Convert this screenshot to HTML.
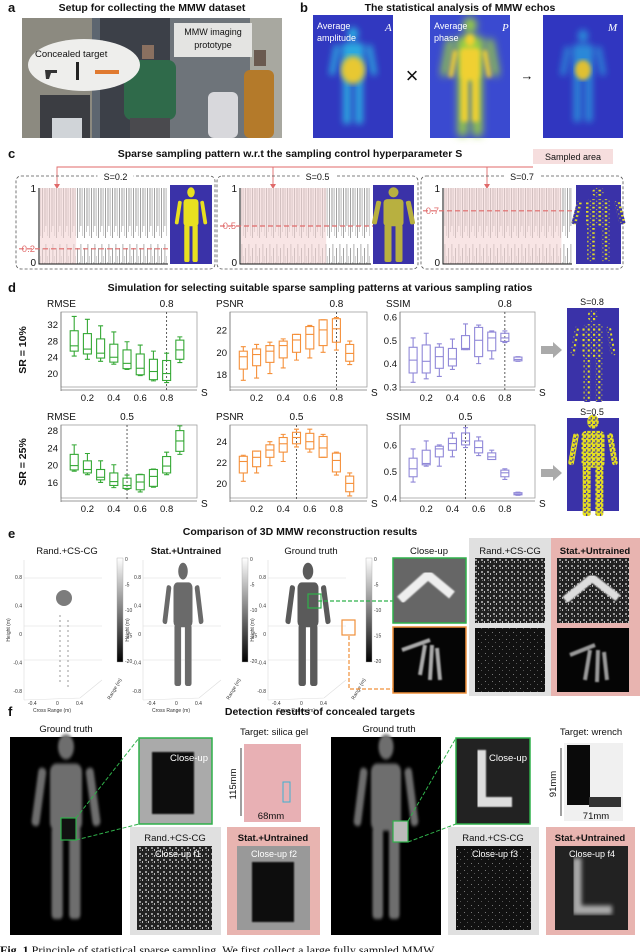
<!DOCTYPE html>
<html><head><meta charset="utf-8"><style>
html,body{margin:0;padding:0;background:#fff}
svg{display:block}
text{font-family:"Liberation Sans",Arial,sans-serif}
.t{font-size:10.5px;font-weight:bold;text-anchor:middle;fill:#111}
.pl{font-size:13px;font-weight:bold;fill:#111}
.s{font-size:9px;fill:#111}
.w{font-size:9px;fill:#fff}
.tiny{font-size:5px;fill:#333}
</style></head><body>
<svg id="fig" width="640" height="952" viewBox="0 0 640 952" xmlns="http://www.w3.org/2000/svg">
<defs>
<filter id="bl3"><feGaussianBlur stdDeviation="3"/></filter>
<filter id="bl2"><feGaussianBlur stdDeviation="2"/></filter>
<filter id="bl1"><feGaussianBlur stdDeviation="0.8"/></filter>
<pattern id="speck" width="4" height="4" patternUnits="userSpaceOnUse"><rect width="4" height="4" fill="#e6e020"/><rect x="0" y="0" width="2" height="1" fill="#3a32a8"/><rect x="2" y="2" width="1" height="2" fill="#3a32a8"/></pattern>
<pattern id="speck2" width="5" height="5" patternUnits="userSpaceOnUse"><rect width="5" height="5" fill="#3a32a8"/><rect x="0" y="0" width="2" height="2" fill="#e6e020"/><rect x="3" y="3" width="1" height="1" fill="#e6e020"/></pattern>
<pattern id="noise" width="6" height="6" patternUnits="userSpaceOnUse"><rect width="6" height="6" fill="#222"/><rect x="1" y="1" width="2" height="2" fill="#999"/><rect x="4" y="3" width="1" height="2" fill="#bbb"/><rect x="2" y="4" width="1" height="1" fill="#666"/></pattern>
<pattern id="noise2" width="7" height="7" patternUnits="userSpaceOnUse"><rect width="7" height="7" fill="#111"/><rect x="2" y="2" width="1" height="1" fill="#777"/><rect x="5" y="5" width="1" height="1" fill="#555"/></pattern>
<pattern id="lines" width="7" height="80" patternUnits="userSpaceOnUse"><rect width="7" height="80" fill="#fff"/><rect x="0" y="8" width="0.8" height="70" fill="#8a8a8a"/><rect x="2" y="22" width="0.7" height="50" fill="#b4b4b4"/><rect x="3.5" y="4" width="0.8" height="62" fill="#9c9c9c"/><rect x="5.3" y="16" width="0.7" height="60" fill="#c0c0c0"/></pattern>
<g id="body">
<ellipse cx="0" cy="-42" rx="5" ry="6"/>
<rect x="-10" y="-34" width="20" height="32" rx="4"/>
<rect x="-17" y="-32" width="5" height="28" rx="2" transform="rotate(10 -15 -32)"/>
<rect x="12" y="-32" width="5" height="28" rx="2" transform="rotate(-10 15 -32)"/>
<rect x="-9" y="-4" width="7" height="44" rx="2"/>
<rect x="2" y="-4" width="7" height="44" rx="2"/>
</g>
</defs>

<!-- ===== a ===== -->
<text x="8" y="12" class="pl">a</text>
<text x="152" y="11" class="t">Setup for collecting the MMW dataset</text>
<g>
<rect x="22" y="18" width="260" height="120" fill="#5d6670"/>
<rect x="22" y="18" width="70" height="120" fill="#8c8a80"/>
<rect x="100" y="18" width="70" height="120" fill="#3c4048"/>
<rect x="170" y="18" width="80" height="120" fill="#6e747a"/>
<rect x="250" y="18" width="32" height="120" fill="#a8a8a0"/>
<rect x="40" y="95" width="50" height="43" fill="#3b3d42"/>
<rect x="52" y="118" width="30" height="20" fill="#d0d4d8"/>
<rect x="124" y="60" width="52" height="60" rx="8" fill="#2f6a4a"/>
<rect x="130" y="118" width="40" height="20" fill="#4a4a4e"/>
<rect x="142" y="45" width="12" height="14" fill="#8a7060"/>
<rect x="208" y="92" width="30" height="46" rx="6" fill="#d8d8dc"/>
<rect x="244" y="70" width="30" height="68" rx="6" fill="#b47a2a"/>
<rect x="254" y="50" width="12" height="16" fill="#6a5a50"/>
<ellipse cx="84" cy="65" rx="56" ry="26" fill="#eeeeec"/>
<rect x="174" y="23" width="78" height="34" fill="#e4e4e2"/>
<path d="M45 70 h12 v3 h-6 l-2 6 h-3 z" fill="#333"/>
<rect x="76" y="62" width="3" height="18" fill="#222"/>
<rect x="95" y="70" width="24" height="4" fill="#e07a30"/>
</g>
<text x="35" y="57" class="s" style="font-size:9.5px">Concealed target</text>
<text x="213" y="35" class="s" text-anchor="middle">MMW imaging</text>
<text x="213" y="48" class="s" text-anchor="middle">prototype</text>

<!-- ===== b ===== -->
<text x="300" y="12" class="pl">b</text>
<text x="460" y="11" class="t">The statistical analysis of MMW echos</text>
<g>
<rect x="313" y="15" width="80" height="123" fill="#3138c0"/>
<g transform="translate(353,80) scale(1.1)" fill="#2aa8e0" filter="url(#bl3)"><use href="#body"/></g>
<ellipse cx="353" cy="70" rx="12" ry="14" fill="#e8c830" filter="url(#bl3)"/>
</g>
<text x="317" y="29" class="w">Average</text>
<text x="317" y="41" class="w">amplitude</text>
<text x="385" y="31" class="w" style="font-style:italic;font-family:'Liberation Serif',serif;font-size:11px">A</text>
<text x="412" y="83" style="font-size:22px;fill:#111" text-anchor="middle">×</text>
<g>
<rect x="430" y="15" width="80" height="123" fill="#3a4ad0"/>
<g transform="translate(470,82) scale(1.35)" fill="#9ad040" filter="url(#bl3)"><use href="#body"/></g>
<g transform="translate(470,82) scale(1.0)" fill="#f0d030" filter="url(#bl2)"><use href="#body"/></g>
</g>
<text x="434" y="29" class="w">Average</text>
<text x="434" y="41" class="w">phase</text>
<text x="502" y="31" class="w" style="font-style:italic;font-family:'Liberation Serif',serif;font-size:11px">P</text>
<text x="527" y="80" style="font-size:13px;fill:#111" text-anchor="middle">→</text>
<g>
<rect x="543" y="15" width="80" height="123" fill="#3036c0"/>
<g transform="translate(583,80) scale(1.05)" fill="#2a88d8" filter="url(#bl3)"><use href="#body"/></g>
<ellipse cx="583" cy="70" rx="8" ry="10" fill="#e0c030" filter="url(#bl2)"/>
</g>
<text x="608" y="31" class="w" style="font-style:italic;font-family:'Liberation Serif',serif;font-size:11px">M</text>

<!-- ===== c ===== -->
<text x="8" y="158" class="pl">c</text>
<text x="290" y="157" class="t">Sparse sampling pattern w.r.t the sampling control hyperparameter S</text>
<rect x="533" y="149" width="80" height="15" fill="#f6dede"/>
<text x="573" y="160" class="s" text-anchor="middle">Sampled area</text>
<g stroke="#e06a6a" stroke-width="0.9" fill="none">
<path d="M533 167 H57 V185"/><path d="M273 167 V185"/><path d="M487 167 V185"/>
</g>
<g fill="#e06a6a"><path d="M54 184 L60 184 L57 189Z"/><path d="M270 184 L276 184 L273 189Z"/><path d="M484 184 L490 184 L487 189Z"/></g>
<g id="cpanels"></g>

<!-- ===== d ===== -->
<text x="8" y="292" class="pl">d</text>
<text x="320" y="291" class="t">Simulation for selecting suitable sparse sampling patterns at various sampling ratios</text>
<text transform="translate(26,350) rotate(-90)" class="t">SR = 10%</text>
<text transform="translate(26,462) rotate(-90)" class="t">SR = 25%</text>
<g id="boxplots"></g>
<g><rect x="541" y="346" width="12" height="8" fill="#aaa"/><path d="M553 342 L562 350 L553 358Z" fill="#aaa"/></g>
<g><rect x="541" y="469" width="12" height="8" fill="#aaa"/><path d="M553 465 L562 473 L553 481Z" fill="#aaa"/></g>
<text x="592" y="305" class="s" text-anchor="middle">S=0.8</text>
<g>
<rect x="567" y="308" width="52" height="93" fill="#3a32a8"/>
<g transform="translate(593,360) scale(1.05)" fill="url(#speck2)"><use href="#body"/></g>
</g>
<text x="592" y="415" class="s" text-anchor="middle">S=0.5</text>
<g>
<rect x="567" y="418" width="52" height="93" fill="#3a32a8"/>
<g transform="translate(593,470) scale(1.15)" fill="url(#speck)"><use href="#body"/></g>
</g>

<!-- ===== e ===== -->
<text x="8" y="538" class="pl">e</text>
<text x="300" y="535" class="t">Comparison of 3D MMW reconstruction results</text>
<g id="eplots"></g>
<rect x="469" y="538" width="82" height="158" fill="#e0e0e0"/>
<rect x="551" y="538" width="89" height="158" fill="#e8b4b0"/>
<text x="429" y="554" class="s" style="font-size:9.5px" text-anchor="middle">Close-up</text>
<text x="510" y="554" class="s" style="font-size:9.5px" text-anchor="middle">Rand.+CS-CG</text>
<text x="595" y="554" class="s" style="font-size:9.5px;font-weight:bold" text-anchor="middle">Stat.+Untrained</text>
<g><rect x="393" y="558" width="73" height="65" fill="#666"/><path d="M400 600 L428 575 L452 595" stroke="#eee" stroke-width="9" fill="none" filter="url(#bl1)"/><rect x="393" y="558" width="73" height="65" fill="none" stroke="#2fb04a" stroke-width="1.5"/></g>
<g><rect x="393" y="627" width="73" height="66" fill="#050505"/><path d="M402 650 L430 640 M420 675 L425 645 M430 680 L432 645 M440 680 L437 648" stroke="#aaa" stroke-width="4" fill="none" filter="url(#bl1)"/><rect x="393" y="627" width="73" height="66" fill="none" stroke="#f0903a" stroke-width="1.5"/></g>
<rect x="475" y="558" width="70" height="65" fill="url(#noise)"/>
<rect x="475" y="628" width="70" height="64" fill="url(#noise2)"/>
<g><rect x="557" y="558" width="72" height="65" fill="url(#noise)"/><path d="M565 600 L592 578 L618 598" stroke="#ddd" stroke-width="8" fill="none" filter="url(#bl1)"/></g>
<g><rect x="557" y="628" width="72" height="64" fill="#050505"/><path d="M570 655 L595 645 M585 680 L590 650 M597 682 L598 650 M607 680 L604 652" stroke="#999" stroke-width="4" fill="none" filter="url(#bl1)"/></g>
<path d="M318 601 H393" stroke="#2fb04a" stroke-dasharray="4,2" stroke-width="1.2" fill="none"/>
<path d="M349 636 V689 H393" stroke="#f0903a" stroke-dasharray="4,2" stroke-width="1.2" fill="none"/>

<!-- ===== f ===== -->
<text x="8" y="716" class="pl">f</text>
<text x="320" y="715" class="t">Detection results of concealed targets</text>
<text x="66" y="732" class="s" style="font-size:9.5px" text-anchor="middle">Ground truth</text>
<text x="389" y="732" class="s" style="font-size:9.5px" text-anchor="middle">Ground truth</text>
<g>
<rect x="10" y="737" width="112" height="198" fill="#000"/>
<g transform="translate(66,835) scale(1.6,2.1)" fill="#6e6e6e" filter="url(#bl1)"><use href="#body"/></g>
<rect x="61" y="818" width="15" height="22" fill="#111" stroke="#2fb04a" stroke-width="1.2"/>
</g>
<g>
<rect x="331" y="737" width="110" height="198" fill="#000"/>
<g transform="translate(386,835) scale(1.5,2.1)" fill="#6e6e6e" filter="url(#bl1)"><use href="#body"/></g>
<rect x="393" y="821" width="15" height="21" fill="#bbb" stroke="#2fb04a" stroke-width="1.2"/>
</g>
<path d="M76 818 L139 738 M76 840 L139 824" stroke="#2fb04a" stroke-dasharray="4,2" stroke-width="1" fill="none"/>
<path d="M408 821 L456 738 M408 842 L456 824" stroke="#2fb04a" stroke-dasharray="4,2" stroke-width="1" fill="none"/>
<g><rect x="139" y="738" width="73" height="86" fill="#aaa"/><rect x="152" y="752" width="42" height="62" fill="#111" filter="url(#bl1)"/><rect x="139" y="738" width="73" height="86" fill="none" stroke="#2fb04a" stroke-width="1.5"/></g>
<text x="208" y="761" class="w" text-anchor="end" style="font-size:9.5px">Close-up</text>
<rect x="130" y="827" width="91" height="108" fill="#e0e0e0"/>
<text x="175" y="841" class="s" style="font-size:9.5px" text-anchor="middle">Rand.+CS-CG</text>
<rect x="137" y="846" width="75" height="84" fill="url(#noise)"/>
<text x="178" y="857" class="w" text-anchor="middle">Close-up f1</text>
<text x="274" y="735" class="s" style="font-size:9.5px" text-anchor="middle">Target: silica gel</text>
<g><rect x="244" y="744" width="57" height="78" fill="#e8b0b4"/><rect x="283" y="782" width="7" height="20" fill="none" stroke="#40b0d0"/></g>
<path d="M241 748 V816 M246 828 H296" stroke="#111" stroke-width="0.8"/>
<text transform="translate(236,784) rotate(-90)" class="s" style="font-size:9.5px" text-anchor="middle">115mm</text>
<text x="271" y="819" class="s" style="font-size:9.5px" text-anchor="middle">68mm</text>
<rect x="227" y="827" width="93" height="108" fill="#e8b4b0"/>
<text x="273" y="841" class="s" style="font-size:9.5px;font-weight:bold" text-anchor="middle">Stat.+Untrained</text>
<g><rect x="237" y="846" width="73" height="84" fill="#999"/><rect x="252" y="862" width="42" height="60" fill="#111" filter="url(#bl1)"/></g>
<text x="274" y="857" class="w" text-anchor="middle">Close-up f2</text>
<g><rect x="456" y="738" width="74" height="86" fill="#222"/><path d="M481 750 V802 H512" stroke="#ddd" stroke-width="10" fill="none" filter="url(#bl1)"/><rect x="456" y="738" width="74" height="86" fill="none" stroke="#2fb04a" stroke-width="1.5"/></g>
<text x="527" y="761" class="w" text-anchor="end" style="font-size:9.5px">Close-up</text>
<rect x="448" y="827" width="91" height="108" fill="#e0e0e0"/>
<text x="493" y="841" class="s" style="font-size:9.5px" text-anchor="middle">Rand.+CS-CG</text>
<rect x="456" y="846" width="75" height="84" fill="url(#noise2)"/>
<text x="495" y="857" class="w" text-anchor="middle">Close-up f3</text>
<text x="591" y="735" class="s" style="font-size:9.5px" text-anchor="middle">Target: wrench</text>
<g><rect x="564" y="743" width="59" height="78" fill="#f0f0f0"/><rect x="567" y="745" width="23" height="60" fill="#0a0a0a"/><rect x="589" y="797" width="32" height="10" fill="#333"/></g>
<path d="M561 748 V816 M566 828 H620" stroke="#111" stroke-width="0.8"/>
<text transform="translate(556,784) rotate(-90)" class="s" style="font-size:9.5px" text-anchor="middle">91mm</text>
<text x="596" y="819" class="s" style="font-size:9.5px" text-anchor="middle">71mm</text>
<rect x="546" y="827" width="89" height="108" fill="#e8b4b0"/>
<text x="590" y="841" class="s" style="font-size:9.5px;font-weight:bold" text-anchor="middle">Stat.+Untrained</text>
<g><rect x="555" y="846" width="73" height="84" fill="#222"/><path d="M577 858 V910 H612" stroke="#aaa" stroke-width="9" fill="none" filter="url(#bl2)"/></g>
<text x="592" y="857" class="w" text-anchor="middle">Close-up f4</text>
<text x="0" y="954" style="font-family:'Liberation Serif',serif;font-size:12px;fill:#111"><tspan font-weight="bold">Fig. 1</tspan>  Principle of statistical sparse sampling. We first collect a large fully sampled MMW</text>
</svg>
<script>
const NS='http://www.w3.org/2000/svg';
function mk(tag,attrs,parent,txt){const e=document.createElementNS(NS,tag);for(const k in attrs)e.setAttribute(k,attrs[k]);if(txt!==undefined)e.textContent=txt;parent.appendChild(e);return e;}

/* ---- panel c data ---- */
const cThresholds=[0.2,0.5,0.7];
const cLabels=['S=0.2','S=0.5','S=0.7'];
const cLay=[{px:16,pw:199,ax:39,ar:168,im:170,iw:42},{px:217,pw:201,ax:240,ar:371,im:373,iw:41},{px:421,pw:202,ax:443,ar:572,im:576,iw:45}];
const cg=document.getElementById('cpanels');
cThresholds.forEach((th,i)=>{
 const L=cLay[i];
 const g=mk('g',{},cg);
 
 
 mk('rect',{x:L.px,y:176,width:L.pw,height:93,rx:5,fill:'none',stroke:'#555','stroke-dasharray':'3,2','stroke-width':0.8},g);
 const tw=36, cx=L.px+L.pw/2;
 mk('rect',{x:cx-tw/2,y:171,width:tw,height:10,fill:'#fff'},g);
 mk('text',{x:cx,y:180,'text-anchor':'middle',class:'s'},g,cLabels[i]);
 const top=188,bot=264;
 const y=v=>bot-v*(bot-top);
 mk('rect',{x:L.ax+1,y:top,width:L.ar-L.ax-1,height:bot-top,fill:'url(#lines)'},g);
 const pinkEnd=L.ax+(L.ar-L.ax)*th*(i==0?1.4:1.3);
 mk('rect',{x:L.ax+1,y:top,width:pinkEnd-L.ax,height:bot-top,fill:'#f4d4d4','fill-opacity':0.6},g);
 mk('path',{d:`M${L.ax} ${top} V${bot} H${L.ar}`,stroke:'#111','stroke-width':1,fill:'none'},g);
 mk('text',{x:L.ax-3,y:top+4,'text-anchor':'end',class:'s',style:'font-size:10px'},g,'1');
 mk('text',{x:L.ax-3,y:bot+2,'text-anchor':'end',class:'s',style:'font-size:10px'},g,'0');
 mk('path',{d:`M${L.ax-20} ${y(th)} H${L.ar+2}`,stroke:'#e06a6a','stroke-dasharray':'5,3','stroke-width':1.2},g);
 mk('text',{x:L.ax-4,y:y(th)+3,'text-anchor':'end',class:'s',style:'font-size:9.5px;fill:#e06a6a'},g,String(th));
 mk('rect',{x:L.im,y:185,width:L.iw,height:79,fill:'#3a32a8'},g);
 const b=mk('g',{transform:`translate(${L.im+L.iw/2},${228}) scale(${0.75+i*0.25},0.85)`,fill:i==1?'#b8b040':(i==0?'#e8e020':'url(#speck2)')},g);
 mk('use',{href:'#body'},b);
});

/* ---- panel d data ---- */
const sValues=[0.1,0.2,0.3,0.4,0.5,0.6,0.7,0.8,0.9];
const xTickLabels=['0.2','0.4','0.6','0.8'];
// each entry: [min, q1, median, q3, max]
const rmseSR10=[[24.3,25.5,26.8,30.5,34],[23.5,24.8,26,29.8,33.3],[23,23.8,25,28.5,31.7],[22.3,22.8,24,27.2,30.2],[21,21.2,22.5,25.8,27.8],[19.5,19.7,21.3,24.8,27],[18.2,18.5,20.5,23.5,25.5],[17.8,18.3,20,23.2,25],[22.7,23.5,25.8,28.2,29]];
const psnrSR10=[[17.5,18.5,19.6,20.1,20.5],[17.7,18.8,19.8,20.3,20.7],[18.1,19.1,20.1,20.6,20.9],[18.6,19.5,20.6,21,21.2],[19.3,20,21.1,21.6,21.6],[19.5,20.3,21.6,22.3,22.4],[20,20.6,22,22.9,22.9],[20.2,20.9,22.1,23,23.1],[18.9,19.2,19.9,20.7,21]];
const ssimSR10=[[.32,.36,.415,.47,.51],[.335,.36,.41,.48,.53],[.345,.38,.43,.47,.485],[.375,.39,.42,.465,.505],[.46,.46,.465,.52,.57],[.40,.43,.50,.555,.565],[.42,.455,.51,.535,.54],[.49,.495,.51,.53,.54],[.41,.412,.418,.428,.43]];
const rmseSR25=[[18.6,18.9,19.9,22.5,24.7],[17.8,18.2,19,21,22.7],[16,16.6,17.2,19,21],[14.8,15.3,16.2,18.2,20.1],[14.4,14.6,15.3,17,17.7],[13.8,14.3,16.1,17.8,17.9],[14.9,15.1,17.4,19,19.1],[17.8,18.2,19.8,22,23],[22.5,23.2,25.6,28,29.1]];
const psnrSR25=[[20.2,21,22.1,22.6,22.7],[21,21.6,22.5,23.1,23.1],[21.7,22.5,23.2,23.7,24],[22.1,23,23.8,24.4,24.7],[23.5,23.8,24.4,24.9,25.2],[23,23.3,24,24.8,25.2],[22.5,22.5,23.4,24.5,24.7],[20.8,21.1,22.2,22.9,23],[18.8,19.2,20,20.7,21]];
const ssimSR25=[[.46,.48,.51,.55,.585],[.52,.525,.53,.58,.615],[.52,.555,.585,.595,.6],[.555,.58,.605,.625,.645],[.59,.6,.615,.645,.665],[.56,.57,.59,.615,.63],[.545,.545,.555,.57,.58],[.47,.48,.495,.505,.51],[.41,.412,.415,.42,.422]];
const yTicksRmse10=[20,24,28,32], yTicksPsnr10=[18,20,22], yTicksSsim10=[0.3,0.4,0.5,0.6];
const yTicksRmse25=[16,20,24,28], yTicksPsnr25=[20,22,24], yTicksSsim25=[0.4,0.5,0.6];
const chosenS=[0.8,0.5];

const panels=[
 {name:'rmse-sr10',title:'RMSE',data:rmseSR10,ticks:yTicksRmse10,dom:[16.7,35.1],x:61,y:312,w:136,h:75,color:'#35a835',sel:chosenS[0]},
 {name:'psnr-sr10',title:'PSNR',data:psnrSR10,ticks:yTicksPsnr10,dom:[16.9,23.6],x:230,y:312,w:137,h:75,color:'#f5903a',sel:chosenS[0]},
 {name:'ssim-sr10',title:'SSIM',data:ssimSR10,ticks:yTicksSsim10,dom:[0.3,0.621],x:400,y:312,w:135,h:75,color:'#9088d8',sel:chosenS[0]},
 {name:'rmse-sr25',title:'RMSE',data:rmseSR25,ticks:yTicksRmse25,dom:[12.4,29.3],x:61,y:425,w:136,h:73,color:'#35a835',sel:chosenS[1]},
 {name:'psnr-sr25',title:'PSNR',data:psnrSR25,ticks:yTicksPsnr25,dom:[18.6,25.6],x:230,y:425,w:137,h:73,color:'#f5903a',sel:chosenS[1]},
 {name:'ssim-sr25',title:'SSIM',data:ssimSR25,ticks:yTicksSsim25,dom:[0.4,0.675],x:400,y:425,w:135,h:73,color:'#9088d8',sel:chosenS[1]}
];
const bg=document.getElementById('boxplots');
panels.forEach(P=>{
 const g=mk('g',{},bg);
 
 
 const xs=s=>P.x+s/1.03*P.w;
 const ys=v=>P.y+P.h-(v-P.dom[0])/(P.dom[1]-P.dom[0])*P.h;
 mk('rect',{x:P.x,y:P.y,width:P.w,height:P.h,fill:'none',stroke:'#a0a0a0','stroke-width':0.8},g);
 mk('path',{d:`M${P.x} ${P.y} V${P.y+P.h+4} M${P.x} ${P.y+P.h+3} H${P.x+P.w}`,stroke:'#777','stroke-width':0.8,fill:'none'},g);
 P.ticks.forEach(t=>{
  const tl=mk('text',{x:P.x-3,y:ys(t)+3.5,'text-anchor':'end',class:'s',style:'font-size:9.5px'},g,String(t));
  
  
 });
 xTickLabels.forEach(t=>{
  const tl=mk('text',{x:xs(parseFloat(t)),y:P.y+P.h+14,'text-anchor':'middle',class:'s',style:'font-size:9.5px'},g,t);
  
  
 });
 mk('text',{x:P.x+P.w+4,y:P.y+P.h+9,class:'s',style:'font-size:10px'},g,'S');
 const tt=mk('text',{x:P.x-14,y:P.y-5,class:'s',style:'font-size:10px'},g,P.title);
 
 
 mk('path',{d:`M${xs(P.sel)} ${P.y} V${P.y+P.h+3}`,stroke:'#333','stroke-dasharray':'2,2','stroke-width':0.8},g);
 mk('text',{x:xs(P.sel),y:P.y-5,'text-anchor':'middle',class:'s',style:'font-size:10px'},g,String(P.sel));
 P.data.forEach((d,i)=>{
  const cx=xs(sValues[i]), bw=8;
  const b=mk('g',{stroke:P.color,'stroke-width':1.1,fill:'none'},g);
  
  
  mk('path',{d:`M${cx} ${ys(d[4])} V${ys(d[3])} M${cx} ${ys(d[1])} V${ys(d[0])} M${cx-2.5} ${ys(d[4])} H${cx+2.5} M${cx-2.5} ${ys(d[0])} H${cx+2.5}`},b);
  mk('rect',{x:cx-bw/2,y:ys(d[3]),width:bw,height:Math.max(1,ys(d[1])-ys(d[3]))},b);
  mk('path',{d:`M${cx-bw/2} ${ys(d[2])} H${cx+bw/2}`},b);
 });
});

/* ---- panel e 3D plots ---- */
const eTitles=['Rand.+CS-CG','Stat.+Untrained','Ground truth'];
const eHeightTicks=['0.8','0.4','0','-0.4','-0.8'];
const eCbarTicks=['0','-5','-10','-15','-20'];
const eLay=[{x:22,cb:117,dens:0},{x:141,cb:242,dens:1},{x:266,cb:366,dens:2}];
const eg=document.getElementById('eplots');
eTitles.forEach((t,i)=>{
 const L=eLay[i];
 const g=mk('g',{},eg);
 
 
 mk('text',{x:L.x+45,y:554,'text-anchor':'middle',class:'s',style:'font-size:9.5px'+(i==1?';font-weight:bold':'')},g,t);
 mk('path',{d:`M${L.x+2} 560 V700 M${L.x+2} 700 L${L.x+58} 698 L${L.x+80} 680 M${L.x+2} 578 H${L.x+80} M${L.x+2} 626 H${L.x+80} M${L.x+2} 660 H${L.x+80}`,stroke:'#ddd','stroke-width':0.6,fill:'none'},g);
 eHeightTicks.forEach((v,k)=>mk('text',{x:L.x,y:579+k*28.5,'text-anchor':'end',class:'tiny'},g,v));
 mk('text',{transform:`translate(${L.x-12},630) rotate(-90)`,'text-anchor':'middle',class:'tiny'},g,'Height (m)');
 mk('text',{x:L.x+30,y:712,'text-anchor':'middle',class:'tiny'},g,'Cross Range (m)');
 mk('text',{x:L.x+6,y:705,class:'tiny'},g,'-0.4');
 mk('text',{x:L.x+34,y:705,class:'tiny'},g,'0');
 mk('text',{x:L.x+54,y:705,class:'tiny'},g,'0.4');
 mk('text',{transform:`translate(${L.x+88},700) rotate(-60)`,class:'tiny'},g,'Range (m)');
 const grad=mk('linearGradient',{id:'cb'+i,x1:0,y1:0,x2:0,y2:1},g);
 mk('stop',{offset:0,'stop-color':'#fff'},grad);mk('stop',{offset:1,'stop-color':'#000'},grad);
 mk('rect',{x:L.cb,y:558,width:6,height:104,fill:`url(#cb${i})`,stroke:'#aaa','stroke-width':0.4},g);
 eCbarTicks.forEach((v,k)=>mk('text',{x:L.cb+8,y:561+k*25.5,class:'tiny'},g,v));
 const bx=L.x+42;
 if(L.dens==0){
  mk('ellipse',{cx:bx,cy:598,rx:8,ry:8,fill:'#444','fill-opacity':0.7},g);
  mk('path',{d:`M${bx-4} 615 V685 M${bx+4} 620 V690`,stroke:'#999','stroke-width':1,'stroke-dasharray':'2,3'},g);
 } else {
  const bb=mk('g',{transform:`translate(${bx},${630}) scale(${i==1?0.95:1.05},1.4)`,fill:i==1?'#6a6a6a':'#5a5a5a'},g);
  mk('use',{href:'#body'},bb);
 }
});
const gb=mk('g',{},eg);


mk('rect',{x:308,y:594,width:13,height:14,fill:'none',stroke:'#2fb04a','stroke-width':1.2},gb);
mk('rect',{x:342,y:620,width:13,height:15,fill:'none',stroke:'#f0903a','stroke-width':1.2},gb);
</script>
</body></html>
